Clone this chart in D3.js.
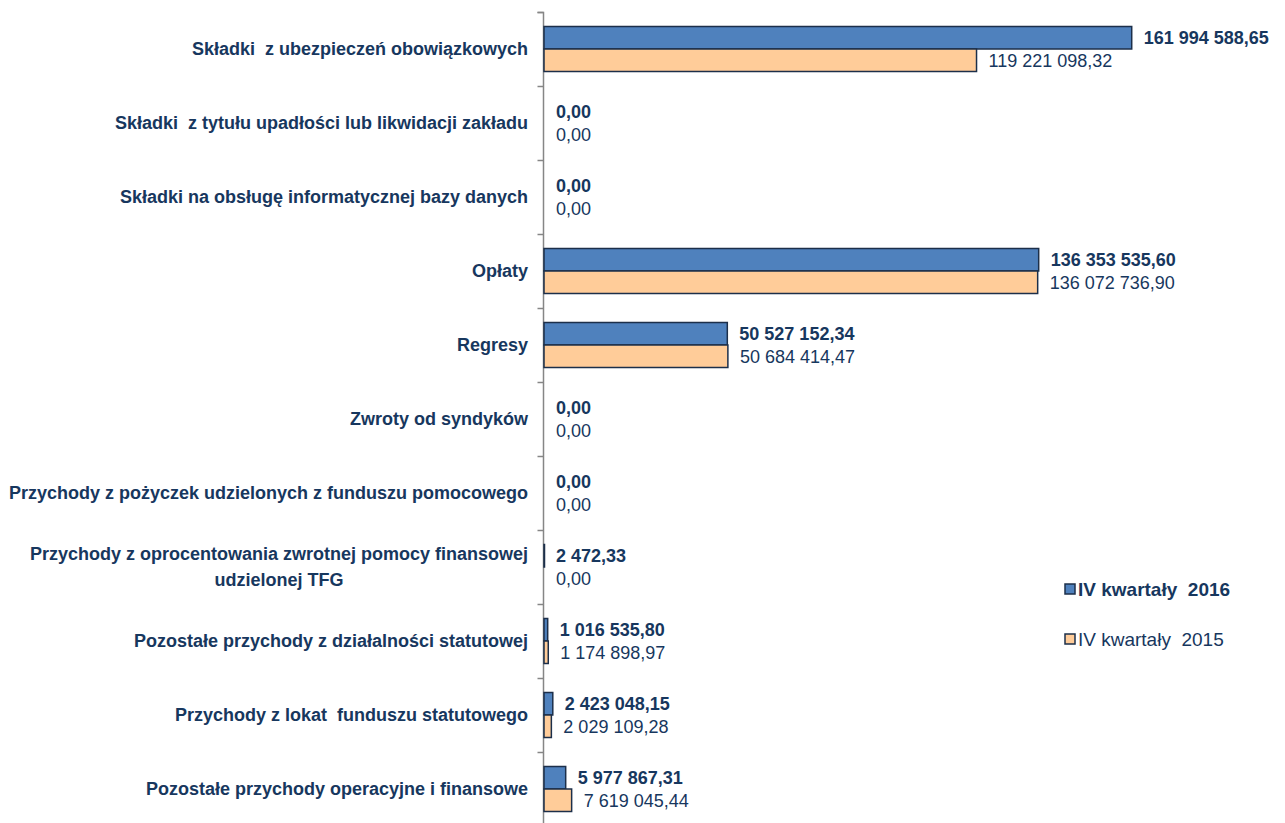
<!DOCTYPE html>
<html lang="pl">
<head>
<meta charset="utf-8">
<script src="https://d3js.org/d3.v7.min.js"></script>
<style>
  body { margin: 0; background: #fff; }
  svg { display: block; }
  text { font-family: "Liberation Sans", Arial, sans-serif; fill: #17375E; white-space: pre; }
</style>
</head>
<body>
<svg id="chart" width="1285" height="823"></svg>
<script>
// Data
const categories = [
  "Składki  z ubezpieczeń obowiązkowych",
  "Składki  z tytułu upadłości lub likwidacji zakładu",
  "Składki na obsługę informatycznej bazy danych",
  "Opłaty",
  "Regresy",
  "Zwroty od syndyków",
  "Przychody z pożyczek udzielonych z funduszu pomocowego",
  "Przychody z oprocentowania zwrotnej pomocy finansowej|udzielonej TFG",
  "Pozostałe przychody z działalności statutowej",
  "Przychody z lokat  funduszu statutowego",
  "Pozostałe przychody operacyjne i finansowe"
]
const values2016 = [161994588.65, 0, 0, 136353535.60, 50527152.34, 0, 0, 2472.33, 1016535.80, 2423048.15, 5977867.31]
const values2015 = [119221098.32, 0, 0, 136072736.90, 50684414.47, 0, 0, 0, 1174898.97, 2029109.28, 7619045.44]
const seriesNames = ["IV kwartały  2016", "IV kwartały  2015"]

const colors = ["#4F81BD", "#FFCC99"]
const stroke = "#1C2F4A"

const pl = d3.formatLocale({decimal: ",", thousands: " ", grouping: [3], currency: ["", " zł"]})
const fmt = pl.format(",.2f")

const svg = d3.select("#chart")
const axisX = 544

const x = d3.scaleLinear()
  .domain([0, 180e6])
  .range([axisX, axisX + 180 * 3.628])

const y = d3.scaleBand()
  .domain(categories)
  .range([12, 826])
  .padding(0)

const barH = 22.5

// axis with ticks at category boundaries
const yb = d3.scaleLinear().domain([0, categories.length]).range([12, 826])
svg.append("g")
  .attr("transform", `translate(${axisX - 0.5},0)`)
  .call(d3.axisLeft(yb).ticks(categories.length).tickFormat("").tickSize(6).tickSizeOuter(6))
  .call(g => g.selectAll("line").attr("stroke", "#868686").attr("stroke-width", 1.5))
  .call(g => g.select(".domain").attr("stroke", "#868686").attr("stroke-width", 1.5).attr("d", `M-6,12.5H0V826`))

const rows = categories.map((c, i) => ({cat: c, v: [values2016[i], values2015[i]]}))

const row = svg.selectAll(".row")
  .data(rows)
  .join("g")
    .attr("class", "row")
    .attr("transform", d => `translate(0,${y(d.cat) + y.bandwidth() / 2})`)

// bars
row.each(function(d) {
  const g = d3.select(this)
  d.v.forEach((v, s) => {
    const top = s === 0 ? -barH : 0
    if (v > 0) {
      g.append("rect")
        .attr("x", x(0))
        .attr("y", top)
        .attr("width", Math.max(0.5, x(v) - x(0)))
        .attr("height", barH)
        .attr("fill", colors[s])
        .attr("stroke", stroke)
        .attr("stroke-width", 1.5)
    }
    g.append("text")
      .attr("x", x(v) + 12)
      .attr("y", top + barH / 2)
      .attr("dy", "0.36em")
      .style("font-size", "18px")
      .style("font-weight", s === 0 ? "bold" : "normal")
      .text(fmt(v))
  })
})

// category labels
row.each(function(d) {
  const g = d3.select(this)
  const lines = d.cat.split("|")
  const t = g.append("text")
    .style("font-size", "18px")
    .style("font-weight", "bold")
  if (lines.length === 1) {
    t.attr("x", 528).attr("dy", "0.36em").attr("text-anchor", "end").text(lines[0])
  } else {
    t.attr("text-anchor", "middle")
    lines.forEach((l, k) => {
      t.append("tspan").attr("dy", k === 0 ? "-0.37em" : "1.45em").text(l)
    })
    const w = d3.max(t.selectAll("tspan").nodes(), n => n.getComputedTextLength())
    t.selectAll("tspan").attr("x", 528 - w / 2)
  }
})

// legend
const legend = svg.append("g")
  .selectAll("g")
  .data(seriesNames)
  .join("g")
    .attr("transform", (d, i) => `translate(1065,${590 + i * 50})`)

legend.append("rect")
  .attr("x", 0).attr("y", -6)
  .attr("width", 10).attr("height", 10)
  .attr("fill", (d, i) => colors[i])
  .attr("stroke", stroke)
  .attr("stroke-width", 1.5)

legend.append("text")
  .attr("x", 13)
  .attr("dy", "0.3em")
  .style("font-size", "19px")
  .style("font-weight", (d, i) => i === 0 ? "bold" : "normal")
  .text(d => d)
</script>
</body>
</html>
